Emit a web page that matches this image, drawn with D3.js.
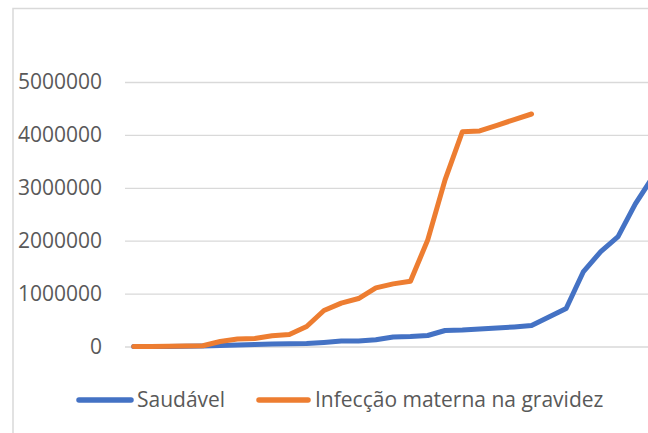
<!DOCTYPE html>
<html>
<head>
<meta charset="utf-8">
<script src="https://cdn.jsdelivr.net/npm/d3@7"></script>
<style>
  body { margin: 0; background: #fff; }
  svg { display: block; font-family: "Open Sans", sans-serif; }
</style>
</head>
<body>
<svg id="chart" width="648" height="433"></svg>
<script>
// data
var seriesNames = ["Saudável", "Infecção materna na gravidez"];
var yTicks = [0, 1000000, 2000000, 3000000, 4000000, 5000000];
var saudavel = [0, 0, 2000, 5000, 10000, 20000, 30000, 40000, 45000, 50000, 55000, 76000, 102000, 102000, 127000,
  178000, 189000, 208000, 302000, 312000, 330000, 350000, 370000, 397000, 557000, 718000, 1417000, 1794000, 2078000, 2696000, 3200000];
var infeccao = [1000, 2000, 4000, 8000, 15000, 94000, 140000, 151000, 202000, 227000, 378000, 680000, 820000, 907000,
  1109000, 1184000, 1235000, 2015000, 3150000, 4060000, 4074000, 4180000, 4290000, 4395000];
var colors = ["#4472C4", "#ED7D31"];

var svg = d3.select("#chart");
const plotLeft = 125, plotRight = 660, plotTop = 82, plotBottom = 346.5;
const nCats = 31; // categories visible (chart runs off the right edge)
const step = 17.3;

var x = d3.scaleLinear().domain([-0.5, nCats - 0.5]).range([plotLeft, plotLeft + step * nCats]);
var y = d3.scaleLinear().domain([0, 5000000]).range([plotBottom, plotTop]);

// outer chart border (cropped at right and bottom)
svg.append("rect")
  .attr("x", 13).attr("y", 8.5)
  .attr("width", 700).attr("height", 500)
  .attr("fill", "none").attr("stroke", "#d9d9d9").attr("stroke-width", 1.5);

// gridlines + labels via axis
var yAxis = d3.axisLeft(y).tickValues(yTicks).tickSize(-(plotRight - plotLeft)).tickPadding(23)
  .tickFormat(d3.format("d"));
var gy = svg.append("g").attr("transform", "translate(" + plotLeft + ",0)").call(yAxis);
gy.select(".domain").remove();
gy.selectAll(".tick line").attr("stroke", "#d9d9d9").attr("stroke-width", 1.3);
gy.selectAll(".tick text").attr("fill", "#595959").attr("font-size", "21px")
  .attr("font-family", "Open Sans, sans-serif");

var line = d3.line().x(function(d, i) { return x(i); }).y(function(d) { return y(d); });

[saudavel, infeccao].forEach(function(s, k) {
  svg.append("path")
    .datum(s)
    .attr("d", line)
    .attr("fill", "none")
    .attr("stroke", colors[k])
    .attr("stroke-width", 5)
    .attr("stroke-linecap", "round")
    .attr("stroke-linejoin", "round");
});

// legend
var legendItems = [{x1: 79, x2: 131, tx: 137}, {x1: 259, x2: 308, tx: 315}];
legendItems.forEach(function(l, k) {
  svg.append("line")
    .attr("x1", l.x1).attr("x2", l.x2).attr("y1", 400).attr("y2", 400)
    .attr("stroke", colors[k]).attr("stroke-width", 5.5).attr("stroke-linecap", "round");
  svg.append("text")
    .attr("x", l.tx).attr("y", 407)
    .attr("fill", "#595959").attr("font-size", "21px")
    .text(seriesNames[k]);
});
</script>
</body>
</html>
